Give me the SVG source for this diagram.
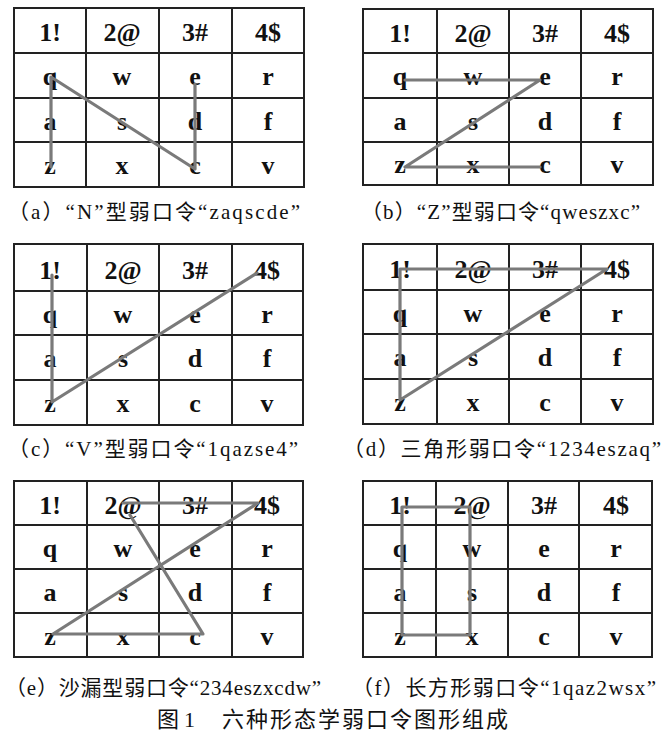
<svg xmlns="http://www.w3.org/2000/svg" width="663" height="740" viewBox="0 0 663 740">
<style>
.grid{fill:none;stroke:#222;stroke-width:2}
.k{font-family:"Liberation Serif","Noto Sans CJK SC",serif;font-weight:bold;font-size:26px;fill:#111;text-anchor:middle}
.cap{font-family:"Liberation Serif","Noto Sans CJK SC",serif;font-size:21px;fill:#111}
.ttl{font-family:"Liberation Serif","Noto Sans CJK SC",serif;font-size:22px;fill:#111}
.pth{fill:none;stroke:#7a7a7a;stroke-width:3.2;stroke-linejoin:round;stroke-linecap:round}
</style>
<rect width="663" height="740" fill="#fff"/>

<g id="grid-a">
<path class="grid" d="M14,8H304V187H14Z M86,8V187 M159,8V187 M232,8V187 M14,53H304 M14,98H304 M14,142H304"/>
<text class="k" x="50" y="41">1!</text><text class="k" x="122" y="41">2@</text><text class="k" x="195" y="41">3#</text><text class="k" x="268" y="41">4$</text>
<text class="k" x="50" y="85">q</text><text class="k" x="122" y="85">w</text><text class="k" x="195" y="85">e</text><text class="k" x="268" y="85">r</text>
<text class="k" x="50" y="130">a</text><text class="k" x="122" y="130">s</text><text class="k" x="195" y="130">d</text><text class="k" x="268" y="130">f</text>
<text class="k" x="50" y="174">z</text><text class="k" x="122" y="174">x</text><text class="k" x="195" y="174">c</text><text class="k" x="268" y="174">v</text>
</g>

<g id="grid-b">
<path class="grid" d="M363,9H653V185H363Z M437,9V185 M509,9V185 M581,9V185 M363,53H653 M363,98H653 M363,142H653"/>
<text class="k" x="400" y="42">1!</text><text class="k" x="473" y="42">2@</text><text class="k" x="545" y="42">3#</text><text class="k" x="617" y="42">4$</text>
<text class="k" x="400" y="85">q</text><text class="k" x="473" y="85">w</text><text class="k" x="545" y="85">e</text><text class="k" x="617" y="85">r</text>
<text class="k" x="400" y="130">a</text><text class="k" x="473" y="130">s</text><text class="k" x="545" y="130">d</text><text class="k" x="617" y="130">f</text>
<text class="k" x="400" y="173">z</text><text class="k" x="473" y="173">x</text><text class="k" x="545" y="173">c</text><text class="k" x="617" y="173">v</text>
</g>

<g id="grid-c">
<path class="grid" d="M14,244H303V425H14Z M87,244V425 M159,244V425 M232,244V425 M14,291H303 M14,335H303 M14,380H303"/>
<text class="k" x="50" y="279">1!</text><text class="k" x="123" y="279">2@</text><text class="k" x="195" y="279">3#</text><text class="k" x="267" y="279">4$</text>
<text class="k" x="50" y="323">q</text><text class="k" x="123" y="323">w</text><text class="k" x="195" y="323">e</text><text class="k" x="267" y="323">r</text>
<text class="k" x="50" y="367">a</text><text class="k" x="123" y="367">s</text><text class="k" x="195" y="367">d</text><text class="k" x="267" y="367">f</text>
<text class="k" x="50" y="412">z</text><text class="k" x="123" y="412">x</text><text class="k" x="195" y="412">c</text><text class="k" x="267" y="412">v</text>
</g>

<g id="grid-d">
<path class="grid" d="M363,244H653V424H363Z M437,244V424 M509,244V424 M581,244V424 M363,290H653 M363,334H653 M363,379H653"/>
<text class="k" x="400" y="278">1!</text><text class="k" x="473" y="278">2@</text><text class="k" x="545" y="278">3#</text><text class="k" x="617" y="278">4$</text>
<text class="k" x="400" y="322">q</text><text class="k" x="473" y="322">w</text><text class="k" x="545" y="322">e</text><text class="k" x="617" y="322">r</text>
<text class="k" x="400" y="366">a</text><text class="k" x="473" y="366">s</text><text class="k" x="545" y="366">d</text><text class="k" x="617" y="366">f</text>
<text class="k" x="400" y="411">z</text><text class="k" x="473" y="411">x</text><text class="k" x="545" y="411">c</text><text class="k" x="617" y="411">v</text>
</g>

<g id="grid-e">
<path class="grid" d="M14,481H303V657H14Z M87,481V657 M159,481V657 M232,481V657 M14,525H303 M14,569H303 M14,613H303"/>
<text class="k" x="50" y="514">1!</text><text class="k" x="123" y="514">2@</text><text class="k" x="195" y="514">3#</text><text class="k" x="267" y="514">4$</text>
<text class="k" x="50" y="557">q</text><text class="k" x="123" y="557">w</text><text class="k" x="195" y="557">e</text><text class="k" x="267" y="557">r</text>
<text class="k" x="50" y="601">a</text><text class="k" x="123" y="601">s</text><text class="k" x="195" y="601">d</text><text class="k" x="267" y="601">f</text>
<text class="k" x="50" y="645">z</text><text class="k" x="123" y="645">x</text><text class="k" x="195" y="645">c</text><text class="k" x="267" y="645">v</text>
</g>

<g id="grid-f">
<path class="grid" d="M363,481H652V657H363Z M436,481V657 M508,481V657 M579,481V657 M363,525H652 M363,569H652 M363,613H652"/>
<text class="k" x="400" y="514">1!</text><text class="k" x="472" y="514">2@</text><text class="k" x="544" y="514">3#</text><text class="k" x="616" y="514">4$</text>
<text class="k" x="400" y="557">q</text><text class="k" x="472" y="557">w</text><text class="k" x="544" y="557">e</text><text class="k" x="616" y="557">r</text>
<text class="k" x="400" y="601">a</text><text class="k" x="472" y="601">s</text><text class="k" x="544" y="601">d</text><text class="k" x="616" y="601">f</text>
<text class="k" x="400" y="645">z</text><text class="k" x="472" y="645">x</text><text class="k" x="544" y="645">c</text><text class="k" x="616" y="645">v</text>
</g>

<g id="connectors">
<polyline class="pth" points="51,167 51,77 195,169 195,84"/>
<polyline class="pth" points="405,80 540,80 405,167 540,167"/>
<polyline class="pth" points="52,275 52,402 257,273"/>
<polygon class="pth" points="400,269 607,269 400,400"/>
<polyline class="pth" points="123,503 258,503 53,634 203,634 130,515"/>
<rect class="pth" x="402" y="507" width="68" height="128"/>
</g>

<g id="captions">
<text class="cap" x="8" y="219" textLength="292">（a）“N”型弱口令“zaqscde”</text>
<text class="cap" x="361" y="219" textLength="279">（b）“Z”型弱口令“qweszxc”</text>
<text class="cap" x="8" y="456" textLength="290">（c）“V”型弱口令“1qazse4”</text>
<text class="cap" x="343" y="456" textLength="318">（d）三角形弱口令“1234eszaq”</text>
<text class="cap" x="5" y="695" textLength="316">（e）沙漏型弱口令“234eszxcdw”</text>
<text class="cap" x="352" y="695" textLength="304">（f）长方形弱口令“1qaz2wsx”</text>
<text class="ttl" x="157" y="727" textLength="38">图 1</text>
<text class="ttl" x="222" y="727" textLength="286">六种形态学弱口令图形组成</text>
</g>
</svg>
